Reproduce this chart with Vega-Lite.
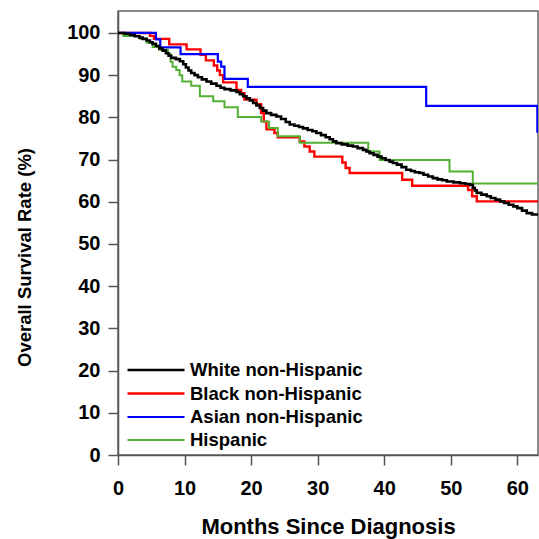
{
 "$schema": "https://vega.github.io/schema/vega-lite/v6.json",
 "width": 420,
 "height": 444,
 "autosize": {"type": "none"},
 "padding": {"left": 118, "top": 11, "right": 1, "bottom": 84},
 "background": "white",
 "config": {
  "font": "Liberation Sans",
  "view": {"stroke": "#666666", "strokeWidth": 1.5},
  "axis": {"grid": false, "domainColor": "#555555", "domainWidth": 1.5, "tickColor": "#555555", "tickWidth": 1.5, "tickSize": 10, "labelFont": "Liberation Sans", "labelFontWeight": "bold", "labelColor": "black", "titleFont": "Liberation Sans", "titleFontWeight": "bold", "titleColor": "black"}
 },
 "datasets": {
  "km": [
   {"group": "Black non-Hispanic", "month": 0, "survival": 100},
   {"group": "Black non-Hispanic", "month": 4.8, "survival": 99.3},
   {"group": "Black non-Hispanic", "month": 5.4, "survival": 98.6},
   {"group": "Black non-Hispanic", "month": 7.7, "survival": 97.3},
   {"group": "Black non-Hispanic", "month": 10.3, "survival": 96.1},
   {"group": "Black non-Hispanic", "month": 12.4, "survival": 94.8},
   {"group": "Black non-Hispanic", "month": 13.2, "survival": 93.5},
   {"group": "Black non-Hispanic", "month": 14.4, "survival": 92.3},
   {"group": "Black non-Hispanic", "month": 14.9, "survival": 91.1},
   {"group": "Black non-Hispanic", "month": 15.3, "survival": 90.0},
   {"group": "Black non-Hispanic", "month": 15.8, "survival": 88.3},
   {"group": "Black non-Hispanic", "month": 17.8, "survival": 86.5},
   {"group": "Black non-Hispanic", "month": 18.5, "survival": 85.7},
   {"group": "Black non-Hispanic", "month": 19.0, "survival": 84.2},
   {"group": "Black non-Hispanic", "month": 20.8, "survival": 83.1},
   {"group": "Black non-Hispanic", "month": 21.5, "survival": 81.0},
   {"group": "Black non-Hispanic", "month": 21.9, "survival": 79.0},
   {"group": "Black non-Hispanic", "month": 22.3, "survival": 77.2},
   {"group": "Black non-Hispanic", "month": 23.5, "survival": 76.3},
   {"group": "Black non-Hispanic", "month": 24.0, "survival": 75.3},
   {"group": "Black non-Hispanic", "month": 27.3, "survival": 74.3},
   {"group": "Black non-Hispanic", "month": 28.0, "survival": 73.1},
   {"group": "Black non-Hispanic", "month": 28.8, "survival": 71.9},
   {"group": "Black non-Hispanic", "month": 29.5, "survival": 70.7},
   {"group": "Black non-Hispanic", "month": 33.7, "survival": 69.3},
   {"group": "Black non-Hispanic", "month": 34.2, "survival": 68.0},
   {"group": "Black non-Hispanic", "month": 34.8, "survival": 66.8},
   {"group": "Black non-Hispanic", "month": 42.7, "survival": 65.2},
   {"group": "Black non-Hispanic", "month": 44.2, "survival": 63.8},
   {"group": "Black non-Hispanic", "month": 52.6, "survival": 62.8},
   {"group": "Black non-Hispanic", "month": 53.2, "survival": 61.3},
   {"group": "Black non-Hispanic", "month": 53.9, "survival": 60.1},
   {"group": "Black non-Hispanic", "month": 63.1, "survival": 60.1},
   {"group": "Asian non-Hispanic", "month": 0, "survival": 100},
   {"group": "Asian non-Hispanic", "month": 5.7, "survival": 98.5},
   {"group": "Asian non-Hispanic", "month": 6.35, "survival": 96.6},
   {"group": "Asian non-Hispanic", "month": 9.4, "survival": 95.0},
   {"group": "Asian non-Hispanic", "month": 15.0, "survival": 93.2},
   {"group": "Asian non-Hispanic", "month": 15.5, "survival": 92.0},
   {"group": "Asian non-Hispanic", "month": 16.0, "survival": 89.1},
   {"group": "Asian non-Hispanic", "month": 19.5, "survival": 87.2},
   {"group": "Asian non-Hispanic", "month": 46.3, "survival": 82.7},
   {"group": "Asian non-Hispanic", "month": 63.0, "survival": 76.6},
   {"group": "Asian non-Hispanic", "month": 63.1, "survival": 76.6},
   {"group": "Hispanic", "month": 0, "survival": 100},
   {"group": "Hispanic", "month": 0.8, "survival": 99.3},
   {"group": "Hispanic", "month": 3.3, "survival": 98.6},
   {"group": "Hispanic", "month": 4.3, "survival": 97.7},
   {"group": "Hispanic", "month": 5.2, "survival": 96.7},
   {"group": "Hispanic", "month": 6.2, "survival": 96.0},
   {"group": "Hispanic", "month": 7.5, "survival": 95.0},
   {"group": "Hispanic", "month": 7.9, "survival": 93.2},
   {"group": "Hispanic", "month": 8.2, "survival": 92.0},
   {"group": "Hispanic", "month": 8.75, "survival": 91.2},
   {"group": "Hispanic", "month": 9.25, "survival": 90.0},
   {"group": "Hispanic", "month": 9.65, "survival": 88.5},
   {"group": "Hispanic", "month": 11.0, "survival": 87.5},
   {"group": "Hispanic", "month": 12.3, "survival": 85.0},
   {"group": "Hispanic", "month": 14.3, "survival": 83.8},
   {"group": "Hispanic", "month": 16.0, "survival": 82.4},
   {"group": "Hispanic", "month": 18.0, "survival": 80.1},
   {"group": "Hispanic", "month": 21.5, "survival": 79.0},
   {"group": "Hispanic", "month": 22.7, "survival": 77.5},
   {"group": "Hispanic", "month": 24.0, "survival": 75.5},
   {"group": "Hispanic", "month": 27.3, "survival": 74.0},
   {"group": "Hispanic", "month": 37.6, "survival": 71.9},
   {"group": "Hispanic", "month": 39.3, "survival": 69.9},
   {"group": "Hispanic", "month": 49.8, "survival": 67.2},
   {"group": "Hispanic", "month": 53.3, "survival": 64.3},
   {"group": "Hispanic", "month": 63.1, "survival": 64.3},
   {"group": "White non-Hispanic", "month": 0, "survival": 100},
   {"group": "White non-Hispanic", "month": 1.0, "survival": 99.8},
   {"group": "White non-Hispanic", "month": 1.8, "survival": 99.5},
   {"group": "White non-Hispanic", "month": 2.5, "survival": 99.2},
   {"group": "White non-Hispanic", "month": 3.2, "survival": 98.9},
   {"group": "White non-Hispanic", "month": 3.7, "survival": 98.6},
   {"group": "White non-Hispanic", "month": 4.3, "survival": 98.2},
   {"group": "White non-Hispanic", "month": 4.8, "survival": 97.8},
   {"group": "White non-Hispanic", "month": 5.2, "survival": 97.4},
   {"group": "White non-Hispanic", "month": 5.7, "survival": 96.9},
   {"group": "White non-Hispanic", "month": 6.2, "survival": 96.3},
   {"group": "White non-Hispanic", "month": 6.7, "survival": 95.8},
   {"group": "White non-Hispanic", "month": 7.2, "survival": 95.2},
   {"group": "White non-Hispanic", "month": 7.6, "survival": 94.6},
   {"group": "White non-Hispanic", "month": 8.0, "survival": 94.1},
   {"group": "White non-Hispanic", "month": 8.7, "survival": 93.8},
   {"group": "White non-Hispanic", "month": 9.3, "survival": 93.3},
   {"group": "White non-Hispanic", "month": 9.8, "survival": 92.6},
   {"group": "White non-Hispanic", "month": 10.2, "survival": 91.8},
   {"group": "White non-Hispanic", "month": 10.6, "survival": 91.1},
   {"group": "White non-Hispanic", "month": 11.0, "survival": 90.5},
   {"group": "White non-Hispanic", "month": 11.5, "survival": 90.0},
   {"group": "White non-Hispanic", "month": 12.0, "survival": 89.5},
   {"group": "White non-Hispanic", "month": 12.6, "survival": 89.0},
   {"group": "White non-Hispanic", "month": 13.3, "survival": 88.5},
   {"group": "White non-Hispanic", "month": 14.0, "survival": 88.0},
   {"group": "White non-Hispanic", "month": 14.8, "survival": 87.5},
   {"group": "White non-Hispanic", "month": 15.4, "survival": 87.0},
   {"group": "White non-Hispanic", "month": 16.0, "survival": 86.7},
   {"group": "White non-Hispanic", "month": 16.9, "survival": 86.4},
   {"group": "White non-Hispanic", "month": 17.8, "survival": 86.0},
   {"group": "White non-Hispanic", "month": 18.3, "survival": 85.5},
   {"group": "White non-Hispanic", "month": 18.8, "survival": 85.0},
   {"group": "White non-Hispanic", "month": 19.3, "survival": 84.5},
   {"group": "White non-Hispanic", "month": 19.8, "survival": 84.0},
   {"group": "White non-Hispanic", "month": 20.3, "survival": 83.4},
   {"group": "White non-Hispanic", "month": 20.8, "survival": 82.8},
   {"group": "White non-Hispanic", "month": 21.3, "survival": 82.2},
   {"group": "White non-Hispanic", "month": 21.8, "survival": 81.6},
   {"group": "White non-Hispanic", "month": 22.3, "survival": 81.0},
   {"group": "White non-Hispanic", "month": 23.0, "survival": 80.6},
   {"group": "White non-Hispanic", "month": 23.8, "survival": 80.2},
   {"group": "White non-Hispanic", "month": 24.5, "survival": 79.6},
   {"group": "White non-Hispanic", "month": 25.2, "survival": 78.9},
   {"group": "White non-Hispanic", "month": 25.8, "survival": 78.3},
   {"group": "White non-Hispanic", "month": 26.5, "survival": 78.0},
   {"group": "White non-Hispanic", "month": 27.2, "survival": 77.7},
   {"group": "White non-Hispanic", "month": 27.8, "survival": 77.4},
   {"group": "White non-Hispanic", "month": 28.5, "survival": 77.0},
   {"group": "White non-Hispanic", "month": 29.2, "survival": 76.7},
   {"group": "White non-Hispanic", "month": 29.8, "survival": 76.3},
   {"group": "White non-Hispanic", "month": 30.5, "survival": 75.8},
   {"group": "White non-Hispanic", "month": 31.2, "survival": 75.3},
   {"group": "White non-Hispanic", "month": 31.8, "survival": 74.8},
   {"group": "White non-Hispanic", "month": 32.3, "survival": 74.3},
   {"group": "White non-Hispanic", "month": 32.8, "survival": 73.9},
   {"group": "White non-Hispanic", "month": 33.6, "survival": 73.6},
   {"group": "White non-Hispanic", "month": 34.5, "survival": 73.3},
   {"group": "White non-Hispanic", "month": 35.3, "survival": 73.1},
   {"group": "White non-Hispanic", "month": 36.0, "survival": 72.7},
   {"group": "White non-Hispanic", "month": 36.8, "survival": 72.3},
   {"group": "White non-Hispanic", "month": 37.3, "survival": 71.9},
   {"group": "White non-Hispanic", "month": 37.8, "survival": 71.5},
   {"group": "White non-Hispanic", "month": 38.4, "survival": 71.1},
   {"group": "White non-Hispanic", "month": 39.0, "survival": 70.7},
   {"group": "White non-Hispanic", "month": 39.6, "survival": 70.3},
   {"group": "White non-Hispanic", "month": 40.2, "survival": 69.9},
   {"group": "White non-Hispanic", "month": 40.8, "survival": 69.5},
   {"group": "White non-Hispanic", "month": 41.3, "survival": 69.2},
   {"group": "White non-Hispanic", "month": 41.9, "survival": 68.8},
   {"group": "White non-Hispanic", "month": 42.6, "survival": 68.2},
   {"group": "White non-Hispanic", "month": 43.3, "survival": 67.6},
   {"group": "White non-Hispanic", "month": 44.0, "survival": 67.3},
   {"group": "White non-Hispanic", "month": 44.6, "survival": 67.0},
   {"group": "White non-Hispanic", "month": 45.3, "survival": 66.8},
   {"group": "White non-Hispanic", "month": 45.9, "survival": 66.4},
   {"group": "White non-Hispanic", "month": 46.6, "survival": 66.0},
   {"group": "White non-Hispanic", "month": 47.3, "survival": 65.6},
   {"group": "White non-Hispanic", "month": 48.0, "survival": 65.3},
   {"group": "White non-Hispanic", "month": 48.7, "survival": 65.1},
   {"group": "White non-Hispanic", "month": 49.4, "survival": 64.8},
   {"group": "White non-Hispanic", "month": 50.4, "survival": 64.6},
   {"group": "White non-Hispanic", "month": 51.4, "survival": 64.4},
   {"group": "White non-Hispanic", "month": 52.2, "survival": 64.2},
   {"group": "White non-Hispanic", "month": 52.9, "survival": 64.0},
   {"group": "White non-Hispanic", "month": 53.3, "survival": 63.3},
   {"group": "White non-Hispanic", "month": 53.6, "survival": 62.7},
   {"group": "White non-Hispanic", "month": 53.9, "survival": 62.1},
   {"group": "White non-Hispanic", "month": 54.6, "survival": 61.7},
   {"group": "White non-Hispanic", "month": 55.4, "survival": 61.3},
   {"group": "White non-Hispanic", "month": 56.0, "survival": 60.9},
   {"group": "White non-Hispanic", "month": 56.7, "survival": 60.5},
   {"group": "White non-Hispanic", "month": 57.4, "survival": 60.1},
   {"group": "White non-Hispanic", "month": 58.0, "survival": 59.7},
   {"group": "White non-Hispanic", "month": 58.7, "survival": 59.3},
   {"group": "White non-Hispanic", "month": 59.4, "survival": 58.9},
   {"group": "White non-Hispanic", "month": 60.0, "survival": 58.5},
   {"group": "White non-Hispanic", "month": 60.7, "survival": 57.9},
   {"group": "White non-Hispanic", "month": 61.4, "survival": 57.3},
   {"group": "White non-Hispanic", "month": 62.2, "survival": 57.0},
   {"group": "White non-Hispanic", "month": 63.1, "survival": 56.7}
  ]
 },
 "data": {"name": "km"},
 "mark": {"type": "line", "interpolate": "step-after", "clip": true},
 "encoding": {
  "x": {
   "field": "month", "type": "quantitative",
   "scale": {"domain": [0, 63.1], "nice": false, "zero": false},
   "axis": {"values": [0, 10, 20, 30, 40, 50, 60], "title": "Months Since Diagnosis", "labelFontSize": 20, "labelPadding": 13, "labelFlush": false, "titleFontSize": 22, "titleY": 78, "titleBaseline": "alphabetic"}
  },
  "y": {
   "field": "survival", "type": "quantitative",
   "scale": {"domain": [0, 105.2], "nice": false},
   "axis": {"values": [0, 10, 20, 30, 40, 50, 60, 70, 80, 90, 100], "title": "Overall Survival Rate (%)", "labelFontSize": 20, "labelPadding": 8, "titleFontSize": 18.5, "titleX": -94, "titleY": 246, "titleAngle": -90, "titleAlign": "center", "titleBaseline": "middle"}
  },
  "color": {
   "field": "group", "type": "nominal",
   "scale": {"domain": ["White non-Hispanic", "Black non-Hispanic", "Asian non-Hispanic", "Hispanic"], "range": ["#000000", "#ff0000", "#0000ff", "#52b033"]},
   "legend": {"orient": "none", "legendX": 27, "legendY": 348, "title": null, "padding": 0, "symbolType": "M-3,0H3", "symbolSize": 361, "symbolStrokeWidth": 2, "labelFont": "Liberation Sans", "labelFontSize": 18.5, "labelFontWeight": "bold", "labelColor": "black", "labelLimit": 400, "rowPadding": 2.5, "labelOffset": 23}
  },
  "strokeWidth": {
   "field": "group", "type": "nominal",
   "scale": {"domain": ["White non-Hispanic", "Black non-Hispanic", "Asian non-Hispanic", "Hispanic"], "range": [2.6, 2, 2, 2]},
   "legend": null
  }
 }
}
